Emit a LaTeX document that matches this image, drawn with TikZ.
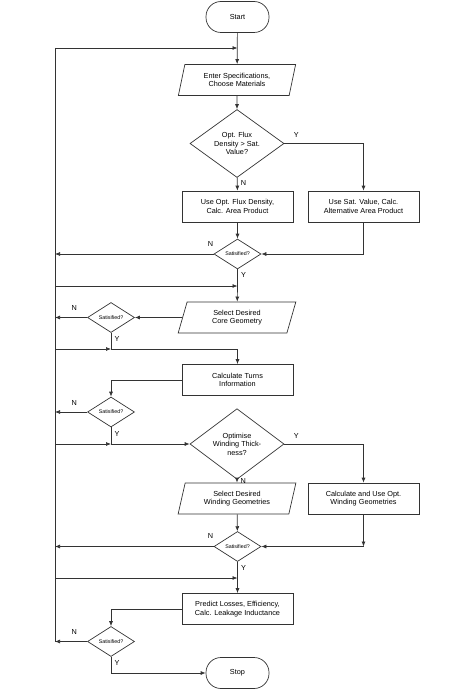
\documentclass[tikz,border=0pt]{standalone}
\usepackage{fontspec}
\setmainfont{Liberation Sans}
\usetikzlibrary{shapes.geometric,arrows.meta}
\begin{document}
\begin{tikzpicture}[x=1pt,y=-1pt,
  every node/.style={font=\fontsize{7.3}{8.5}\selectfont, align=center},
  ln/.style={draw=black!80, line width=0.7pt},
  ar/.style={ln, -{Latex[length=5pt,width=4pt]}},
  box/.style={ln, rectangle, minimum width=111pt, minimum height=31pt, inner sep=1pt},
  io/.style={ln, trapezium, trapezium left angle=75, trapezium right angle=105, trapezium stretches=true, minimum width=118pt, minimum height=31pt, inner sep=1pt},
  term/.style={ln, rectangle, rounded corners=15pt, minimum width=63pt, minimum height=31pt},
  bigd/.style={ln, diamond, minimum width=94pt, minimum height=48pt, inner sep=0pt},
  smd/.style={ln, diamond, minimum width=47pt, minimum height=30pt, inner sep=0pt, font=\fontsize{5.3}{6}\selectfont},
  lab/.style={font=\fontsize{7.3}{8}\selectfont}]
\useasboundingbox (0,0) rectangle (474,690);
\node[term] (start) at (237.5,17) {Start};
\node[io] (spec) at (237,80) {Enter Specifications,\\Choose Materials};
\node[bigd] (d1) at (237,143.5) {Opt. Flux\\Density > Sat.\\Value?};
\node[box] (b1) at (237.5,206.5) {Use Opt. Flux Density,\\Calc. Area Product};
\node[box] (b2) at (363.5,206.5) {Use Sat. Value, Calc.\\Alternative Area Product};
\node[smd] (s1) at (237.5,254) {Satisified?};
\node[io] (core) at (237,317.5) {Select Desired\\Core Geometry};
\node[smd] (s2) at (111,317.5) {Satisified?};
\node[box] (turns) at (237.5,380) {Calculate Turns\\Information};
\node[smd] (s3) at (111,412) {Satisified?};
\node[bigd] (d2) at (237,444) {Optimise\\Winding Thick-\\ness?};
\node[io] (wind) at (237,498.5) {Select Desired\\Winding Geometries};
\node[box] (b3) at (363.5,498.5) {Calculate and Use Opt.\\Winding Geometries};
\node[smd] (s4) at (237.5,546.5) {Satisified?};
\node[box] (pred) at (237.5,609) {Predict Losses, Efficiency,\\Calc. Leakage Inductance};
\node[smd] (s5) at (111,641.5) {Satisified?};
\node[term] (stop) at (237.5,673) {Stop};

\coordinate (r0) at (55,48);
\coordinate (r5) at (s5.west -| r0);
\coordinate (j0) at (start.south |- r0);
\coordinate (j1) at (237.5,286);
\coordinate (j2) at (111,349);
\coordinate (j3) at (111,444);
\coordinate (j4) at (237.5,578);
\coordinate (k4) at (b3.south |- s4);

\draw[ln] (r0) -- (r5);
\draw[ar] (start) -- (spec);
\draw[ar] (r0) -- (j0);
\draw[ar] (spec) -- (d1);
\draw[ar] (d1) -- node[lab, right, pos=0.4] {N} (b1);
\draw[ar] (d1.east) -- node[lab, above, pos=0.15, yshift=2pt] {Y} (b2.north |- d1) -- (b2);
\draw[ar] (b1) -- (s1);
\draw[ar] (b2.south) -- (b2.south |- s1) -- (s1.east);
\draw[ar] (s1.west) -- node[lab, above, pos=0.02, yshift=4pt] {N} (s1.west -| r0);
\draw[ln] (s1.south) -- node[lab, right, pos=0.35] {Y} (j1);
\draw[ar] (j1 -| r0) -- (j1);
\draw[ar] (j1) -- (core);
\draw[ar] (core) -- (s2);
\draw[ar] (s2.west) -- node[lab, above, pos=0.4, yshift=3pt] {N} (s2.west -| r0);
\draw[ln] (s2.south) -- node[lab, right, pos=0.4] {Y} (j2) -- (j2 -| turns);
\draw[ar] (j2 -| r0) -- (j2);
\draw[ar] (j2 -| turns) -- (turns);
\draw[ar] (turns.west) -| (s3.north);
\draw[ar] (s3.west) -- node[lab, above, pos=0.4, yshift=3pt] {N} (s3.west -| r0);
\draw[ln] (s3.south) -- node[lab, right, pos=0.4] {Y} (j3);
\draw[ar] (j3 -| r0) -- (j3);
\draw[ar] (j3) -- (d2.west);
\draw[ar] (d2) -- node[lab, right, pos=0.4] {N} (wind);
\draw[ar] (d2.east) -- node[lab, above, pos=0.15, yshift=2pt] {Y} (b3.north |- d2) -- (b3);
\draw[ar] (wind) -- (s4);
\draw[ar] (b3.south) -- (k4);
\draw[ar] (k4) -- (s4.east);
\draw[ar] (s4.west) -- node[lab, above, pos=0.02, yshift=4pt] {N} (s4.west -| r0);
\draw[ln] (s4.south) -- node[lab, right, pos=0.35] {Y} (j4);
\draw[ar] (j4 -| r0) -- (j4);
\draw[ar] (j4) -- (pred);
\draw[ar] (pred.west) -| (s5.north);
\draw[ar] (s5.west) -- node[lab, above, pos=0.4, yshift=3pt] {N} (r5);
\draw[ar] (s5.south) -- node[lab, right, pos=0.35] {Y} (s5.south |- stop) -- (stop.west);
\end{tikzpicture}
\end{document}
